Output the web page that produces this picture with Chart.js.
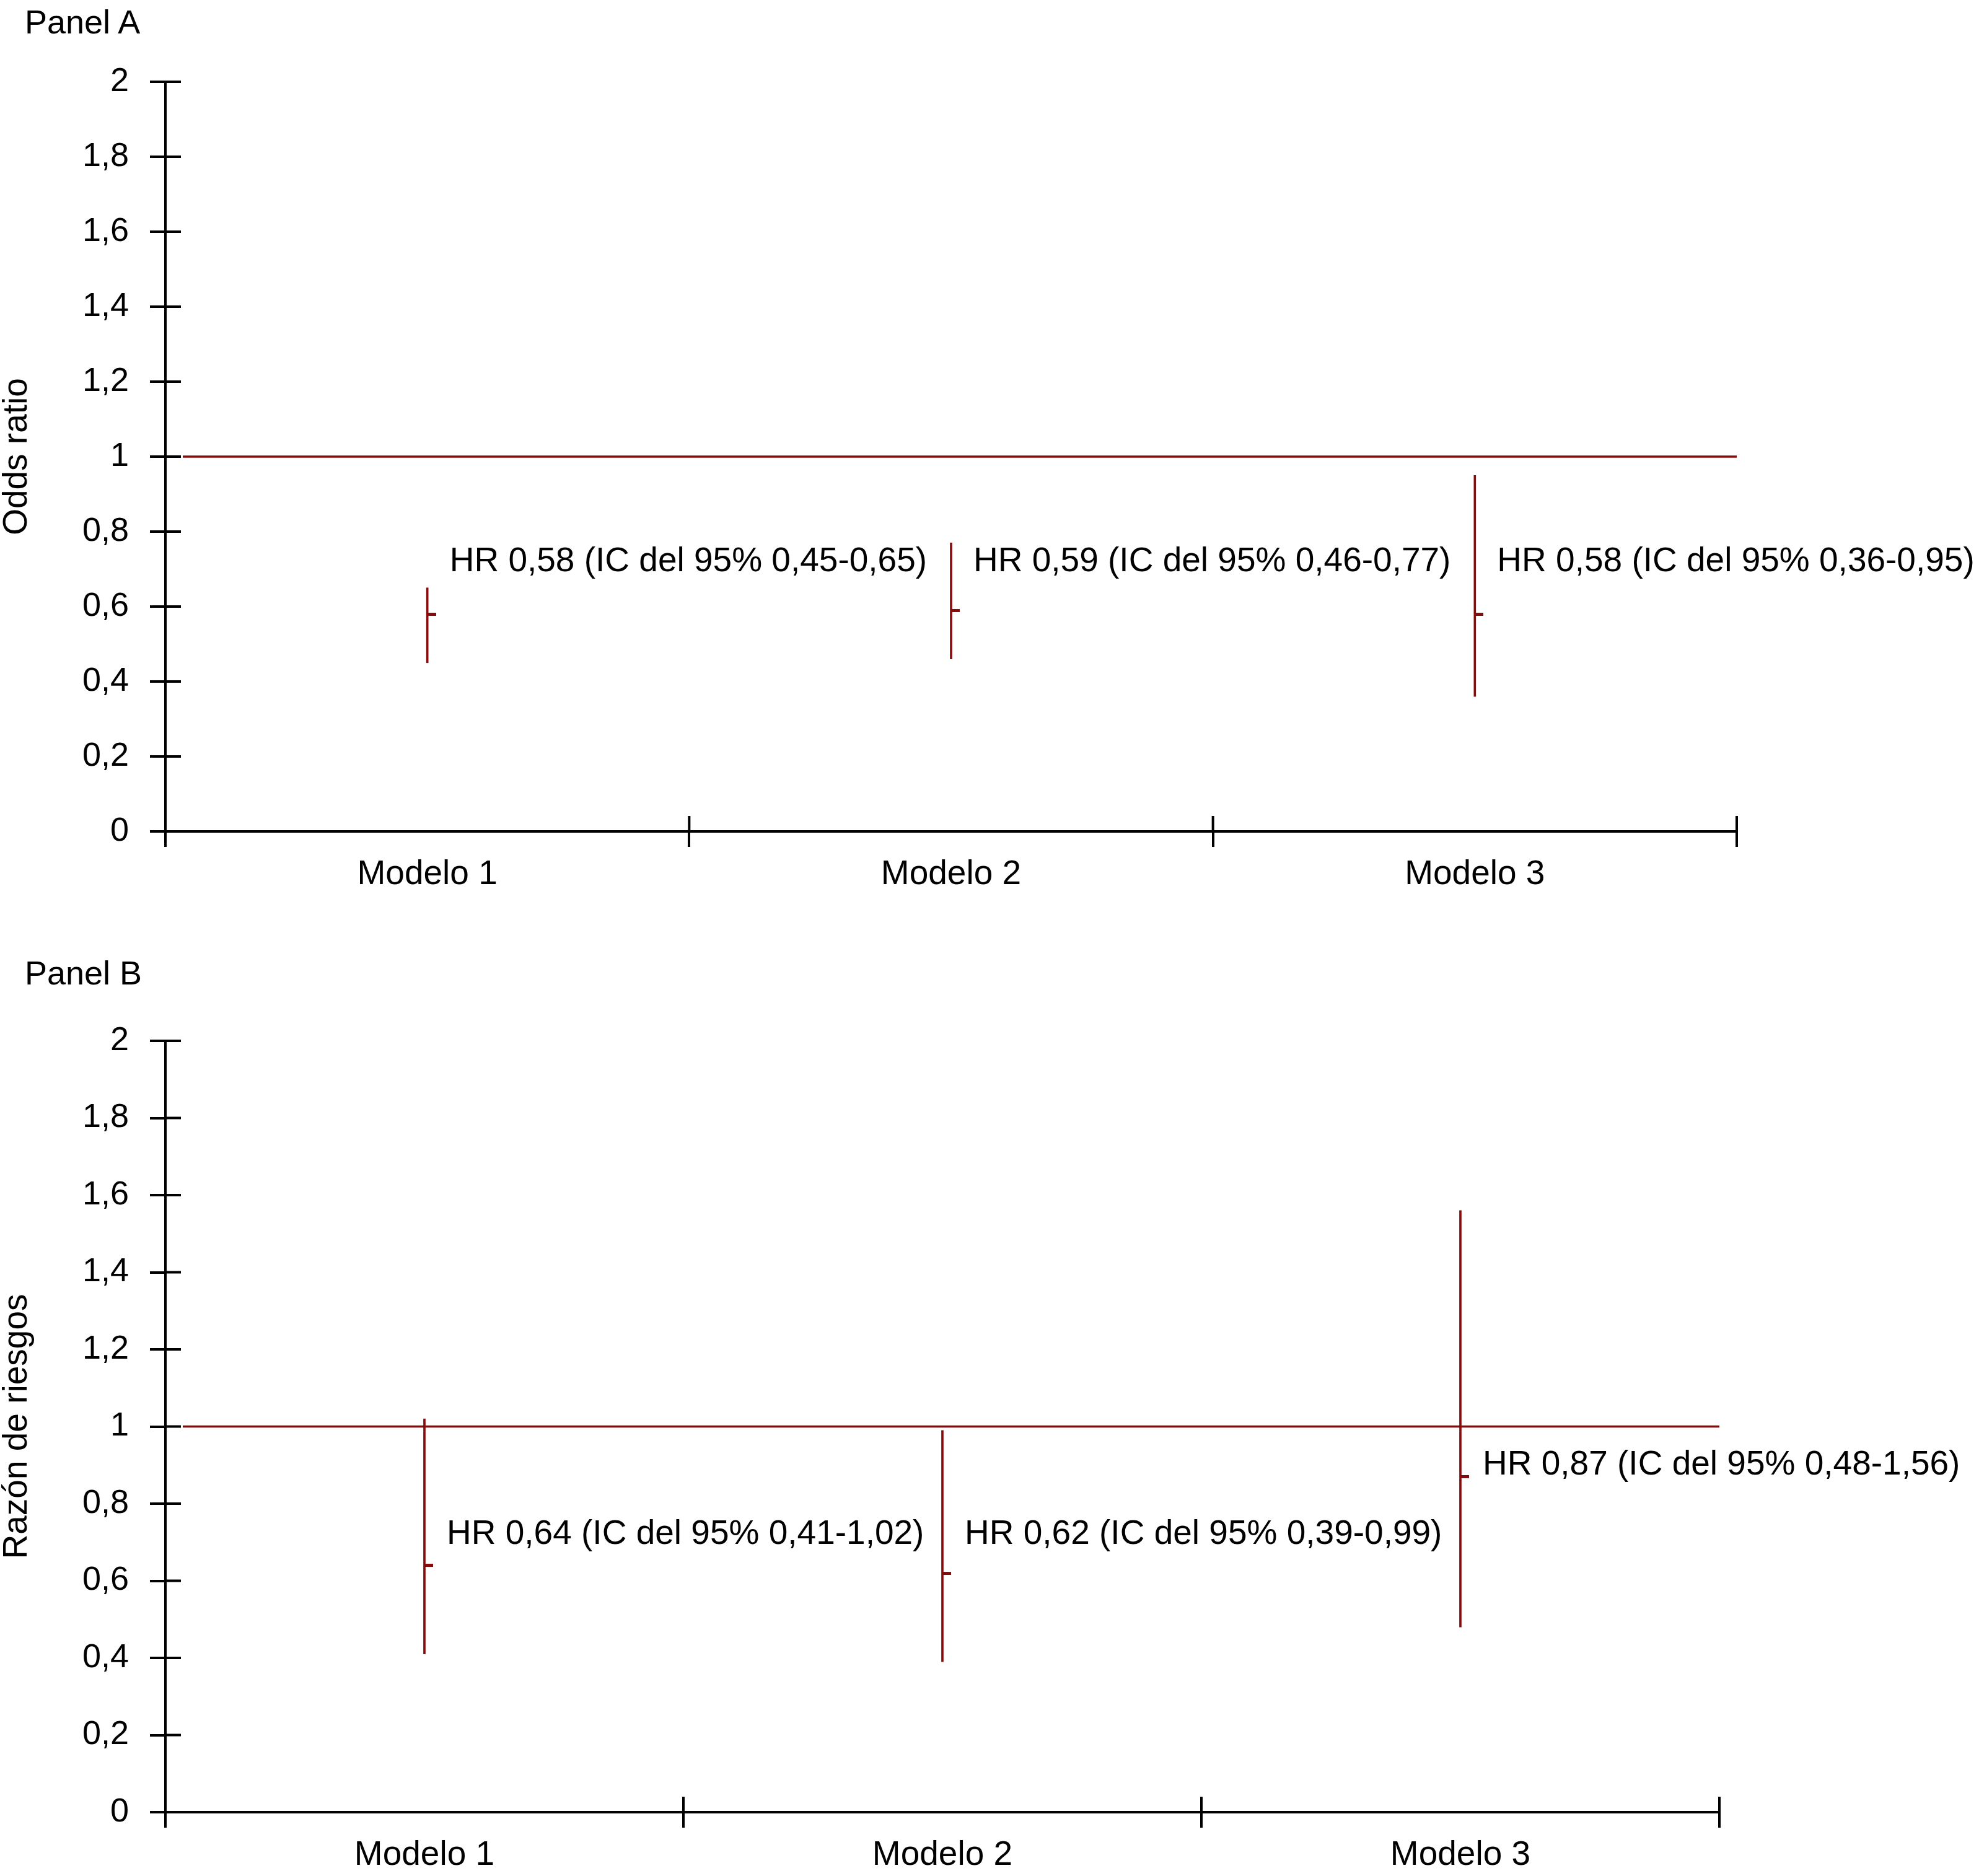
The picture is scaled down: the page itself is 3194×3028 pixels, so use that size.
<!DOCTYPE html>
<html lang="es">
<head>
<meta charset="UTF-8">
<title>Panel A / Panel B</title>
<script src="https://cdn.jsdelivr.net/npm/chart.js@4.4.1/dist/chart.umd.min.js"></script>
<style>
  html, body { margin: 0; padding: 0; background: #fff; }
  body { width: 3194px; height: 3028px; position: relative; overflow: hidden;
         font-family: 'Liberation Sans', Arial, sans-serif; }
  .panel { position: absolute; left: 40px; font-size: 54px; line-height: 54px; color: #000; }
  .lienzo { position: absolute; left: 0; }
</style>
</head>
<body>
<div class="panel" style="top:8px">Panel A</div>
<canvas id="graficoA" class="lienzo" style="top:0" width="3194" height="1500"></canvas>
<div class="panel" style="top:1543px">Panel B</div>
<canvas id="graficoB" class="lienzo" style="top:1528px" width="3194" height="1500"></canvas>

<script>
    // categorias del eje x
    const modelos = ['Modelo 1', 'Modelo 2', 'Modelo 3'];

    // Panel A - odds ratio
    const hrA = [0.58, 0.59, 0.58];
    const icInfA = [0.45, 0.46, 0.36];
    const icSupA = [0.65, 0.77, 0.95];
    const textoYA = [0.72, 0.72, 0.72];   // altura (en valor) de cada etiqueta

    // Panel B - razon de riesgos
    const hrB = [0.64, 0.62, 0.87];
    const icInfB = [0.41, 0.39, 0.48];
    const icSupB = [1.02, 0.99, 1.56];
    const textoYB = [0.72, 0.72, 0.90];

    // eje y
    const ejeYMin = 0;
    const ejeYMax = 2;
    const ejeYPaso = 0.2;
    const lineaRef = 1;

    const granate = '#870c0c';
    const fuente = "'Liberation Sans', Arial, sans-serif";

    Chart.defaults.font.family = fuente;
    Chart.defaults.font.size = 54;
    Chart.defaults.color = '#000';

    function coma(v, dec) {
        return v.toFixed(dec).replace('.', ',');
    }

    // marca del punto: rayita solo hacia la derecha de la barra
    const marcaHR = document.createElement('canvas');
    marcaHR.width = 28;
    marcaHR.height = 5;
    let mctx = marcaHR.getContext('2d');
    mctx.fillStyle = granate;
    mctx.fillRect(14, 0, 14, 5);

    // linea de referencia, ticks hacia dentro y etiquetas HR
    function pluginMarcas(hr, inf, sup, textoY) {
        return {
            id: 'marcas',
            beforeDatasetsDraw(chart) {
                const ctx = chart.ctx, area = chart.chartArea, y = chart.scales.y;
                const yRef = y.getPixelForValue(lineaRef);
                ctx.save();
                ctx.strokeStyle = granate;
                ctx.lineWidth = 3.5;
                ctx.beginPath();
                ctx.moveTo(area.left + 28, yRef);
                ctx.lineTo(area.right, yRef);
                ctx.stroke();
                ctx.restore();
            },
            afterDatasetsDraw(chart) {
                const ctx = chart.ctx, area = chart.chartArea;
                const x = chart.scales.x, y = chart.scales.y;
                ctx.save();
                ctx.strokeStyle = '#000';
                ctx.lineWidth = 4;
                ctx.beginPath();
                y.ticks.forEach(t => {
                    const py = y.getPixelForValue(t.value);
                    ctx.moveTo(area.left, py);
                    ctx.lineTo(area.left + 25, py);
                });
                for (let i = 0; i <= modelos.length; i++) {
                    const px = x.getPixelForValue(i - 0.5);
                    ctx.moveTo(px, area.bottom);
                    ctx.lineTo(px, area.bottom - 25);
                }
                ctx.stroke();

                ctx.fillStyle = '#000';
                ctx.font = '55px ' + fuente;
                ctx.textAlign = 'left';
                ctx.textBaseline = 'middle';
                hr.forEach((v, i) => {
                    const txt = 'HR ' + coma(v, 2) + ' (IC del 95% ' + coma(inf[i], 2) + '-' + coma(sup[i], 2) + ')';
                    ctx.fillText(txt, x.getPixelForValue(i) + 36, y.getPixelForValue(textoY[i]));
                });
                ctx.restore();
            }
        };
    }

    function crearPanel(id, tituloY, hr, inf, sup, textoY, padTop, padRight, altoX) {
        const ctx = document.getElementById(id).getContext('2d');
        return new Chart(ctx, {
            type: 'bar',
            data: {
                labels: modelos,
                datasets: [
                {
                    type: 'bar',
                    data: inf.map((lo, i) => [lo, sup[i]]),
                    backgroundColor: granate,
                    borderWidth: 0,
                    barThickness: 3
                },
                {
                    type: 'line',
                    data: hr,
                    showLine: false,
                    pointStyle: marcaHR,
                    pointRadius: 7,
                    pointHoverRadius: 7
                }
                ]
            },
            options: {
                responsive: false,
                devicePixelRatio: 1,
                animation: false,
                layout: { padding: { top: padTop, right: padRight, left: 0, bottom: 0 } },
                plugins: {
                    legend: { display: false },
                    tooltip: { enabled: false }
                },
                scales: {
                    x: {
                        offset: true,
                        grid: { offset: true, drawOnChartArea: false, color: '#000', lineWidth: 4, tickLength: 25 },
                        border: { display: true, color: '#000', width: 4 },
                        ticks: { padding: 12, font: { size: 55 }, maxRotation: 0 },
                        afterFit: (s) => { s.height = altoX; }
                    },
                    y: {
                        min: ejeYMin,
                        max: ejeYMax,
                        grid: { drawOnChartArea: false, color: '#000', lineWidth: 4, tickLength: 25 },
                        border: { display: true, color: '#000', width: 4 },
                        ticks: {
                            stepSize: ejeYPaso,
                            padding: 34,
                            font: { size: 54 },
                            callback: (v) => (Math.round(v * 10) / 10).toString().replace('.', ',')
                        },
                        title: { display: true, text: tituloY, font: { size: 55, lineHeight: 1 }, padding: 0 },
                        afterFit: (s) => { s.width = 267; }
                    }
                }
            },
            plugins: [pluginMarcas(hr, inf, sup, textoY)]
        });
    }

    crearPanel('graficoA', 'Odds ratio', hrA, icInfA, icSupA, textoYA, 132, 391, 158);
    crearPanel('graficoB', 'Razón de riesgos', hrB, icInfB, icSupB, textoYB, 152, 419, 103);
</script>
</body>
</html>
